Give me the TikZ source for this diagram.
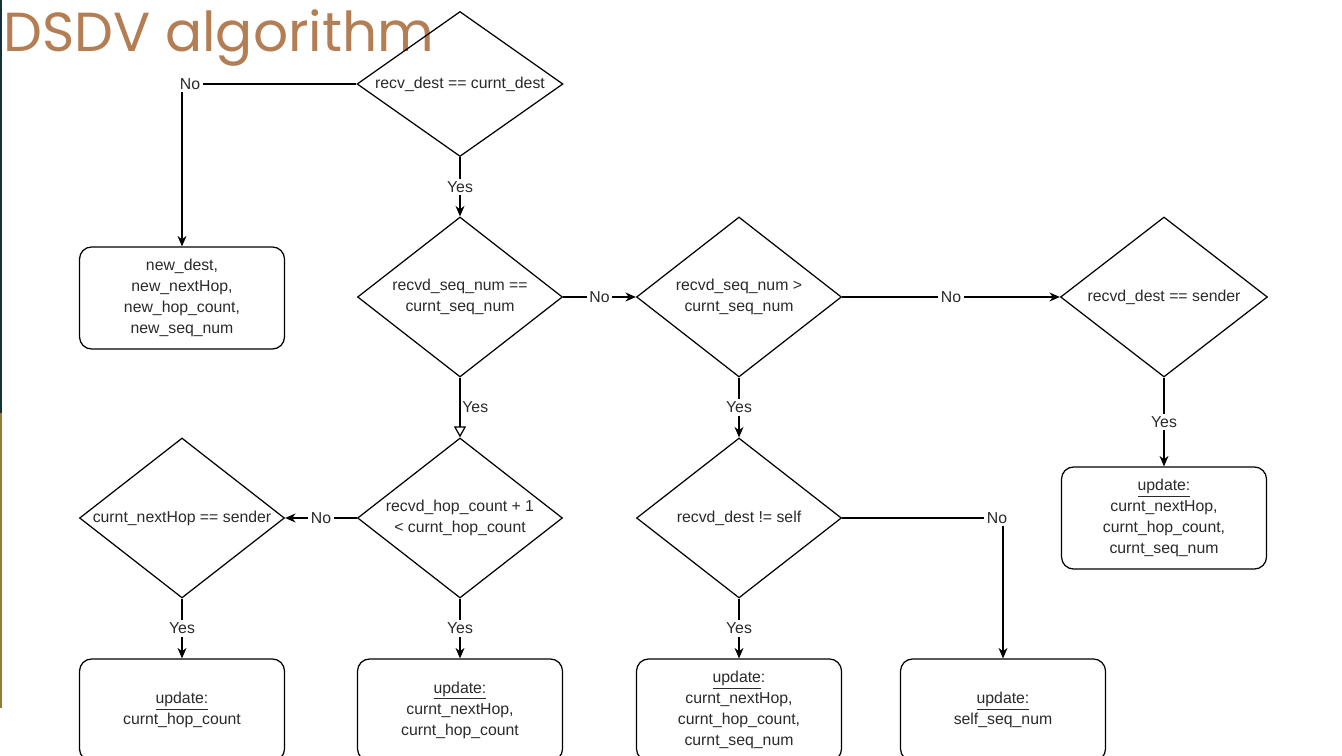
\documentclass[tikz,border=0pt]{standalone}
\usepackage{fontspec}
\setmainfont{Liberation Sans}
\newfontfamily\titlefont{Poppins}
\usepackage{tikz}
\usetikzlibrary{arrows.meta,positioning,shapes.geometric}
\definecolor{titlebrown}{HTML}{B47E54}
\definecolor{bardark}{HTML}{16303A}
\definecolor{bargold}{HTML}{9A7838}
\definecolor{inkgray}{HTML}{2A2A2A}
\newcommand{\dtxt}[1]{\makebox[0pt]{#1}}

\begin{document}
\begin{tikzpicture}[
    x=0.02cm,y=-0.02cm,
    every node/.style={font=\fontsize{9}{12}\selectfont,text=inkgray},
    dbox/.style={draw,shape=diamond,minimum width=4.1cm,minimum height=3.2cm,inner sep=0pt,align=center,line width=0.7pt},
    rbox/.style={draw,rounded corners=0.24cm,minimum width=4.1cm,minimum height=2.04cm,align=center,line width=0.7pt},
    arr/.style={-{Stealth[length=2.1mm,width=1.8mm]},line width=0.7pt},
    lbl/.style={fill=white,inner sep=1.5pt,midway}
]
\useasboundingbox (0,0) rectangle (1342,756);
\fill[bardark] (0,0) rectangle (2,413);
\fill[bargold] (0,413) rectangle (2,708);

\node[anchor=base west,font=\titlefont\fontsize{31.3}{36}\selectfont,text=titlebrown,inner sep=0pt] (title) at (3,52) {DSDV algorithm};

% Row 1: destination check
\node[dbox,minimum width=4.12cm,minimum height=2.9cm] (cdest) at (460,84) {\dtxt{recv\_dest == curnt\_dest}};
\node[rbox] (newent) at (182,298) {new\_dest,\\new\_nextHop,\\new\_hop\_count,\\new\_seq\_num};

% Row 2: sequence number checks
\node[dbox] (seqeq) at (460,297) {\dtxt{recvd\_seq\_num ==}\\\dtxt{curnt\_seq\_num}};
\node[dbox] (seqgt) at (739,297) {\dtxt{recvd\_seq\_num >}\\\dtxt{curnt\_seq\_num}};
\node[dbox,minimum width=4.14cm] (dsend) at (1164,297) {\dtxt{recvd\_dest == sender}};
\node[rbox] (updA) at (1164,518) {\underline{update:}\\curnt\_nextHop,\\curnt\_hop\_count,\\curnt\_seq\_num};

% Row 3: hop count and self checks
\node[dbox] (hopc) at (460,518) {\dtxt{recvd\_hop\_count + 1}\\\dtxt{< curnt\_hop\_count}};
\node[dbox] (nhop) at (182,518) {\dtxt{curnt\_nextHop == sender}};
\node[dbox] (dself) at (739,518) {\dtxt{recvd\_dest != self}};

% Row 4: updates
\node[rbox] (updB) at (182,710) {\underline{update:}\\curnt\_hop\_count};
\node[rbox] (updC) at (460,710) {\underline{update:}\\curnt\_nextHop,\\curnt\_hop\_count};
\node[rbox] (updD) at (739,710) {\underline{update}:\\curnt\_nextHop,\\curnt\_hop\_count,\\curnt\_seq\_num};
\node[rbox] (updE) at (1003,710) {\underline{update:}\\self\_seq\_num};

% Connectors
\draw[arr] (cdest.west) -| node[lbl,pos=0.5,xshift=0.16cm]{No} (newent.north);
\draw[arr] (cdest.south) -- node[lbl]{Yes} (seqeq.north);
\draw[arr] (seqeq.east) -- node[lbl]{No} (seqgt.west);
\draw[arr] (seqgt.east) -- node[lbl]{No} (dsend.west);
\draw[arr] (dsend.south) -- node[lbl]{Yes} (updA.north);
\draw[-{Triangle[open,length=2.2mm,width=2.4mm]},line width=0.7pt] (seqeq.south) -- node[midway,anchor=west,inner sep=1pt]{Yes} (hopc.north);
\draw[arr] (seqgt.south) -- node[lbl]{Yes} (dself.north);
\draw[arr] (hopc.west) -- node[lbl]{No} (nhop.east);
\draw[arr] (nhop.south) -- node[lbl]{Yes} (updB.north);
\draw[arr] (hopc.south) -- node[lbl]{Yes} (updC.north);
\draw[arr] (dself.south) -- node[lbl]{Yes} (updD.north);
\draw[arr] (dself.east) -| node[lbl,pos=0.5,xshift=-0.12cm]{No} (updE.north);
\end{tikzpicture}
\end{document}
